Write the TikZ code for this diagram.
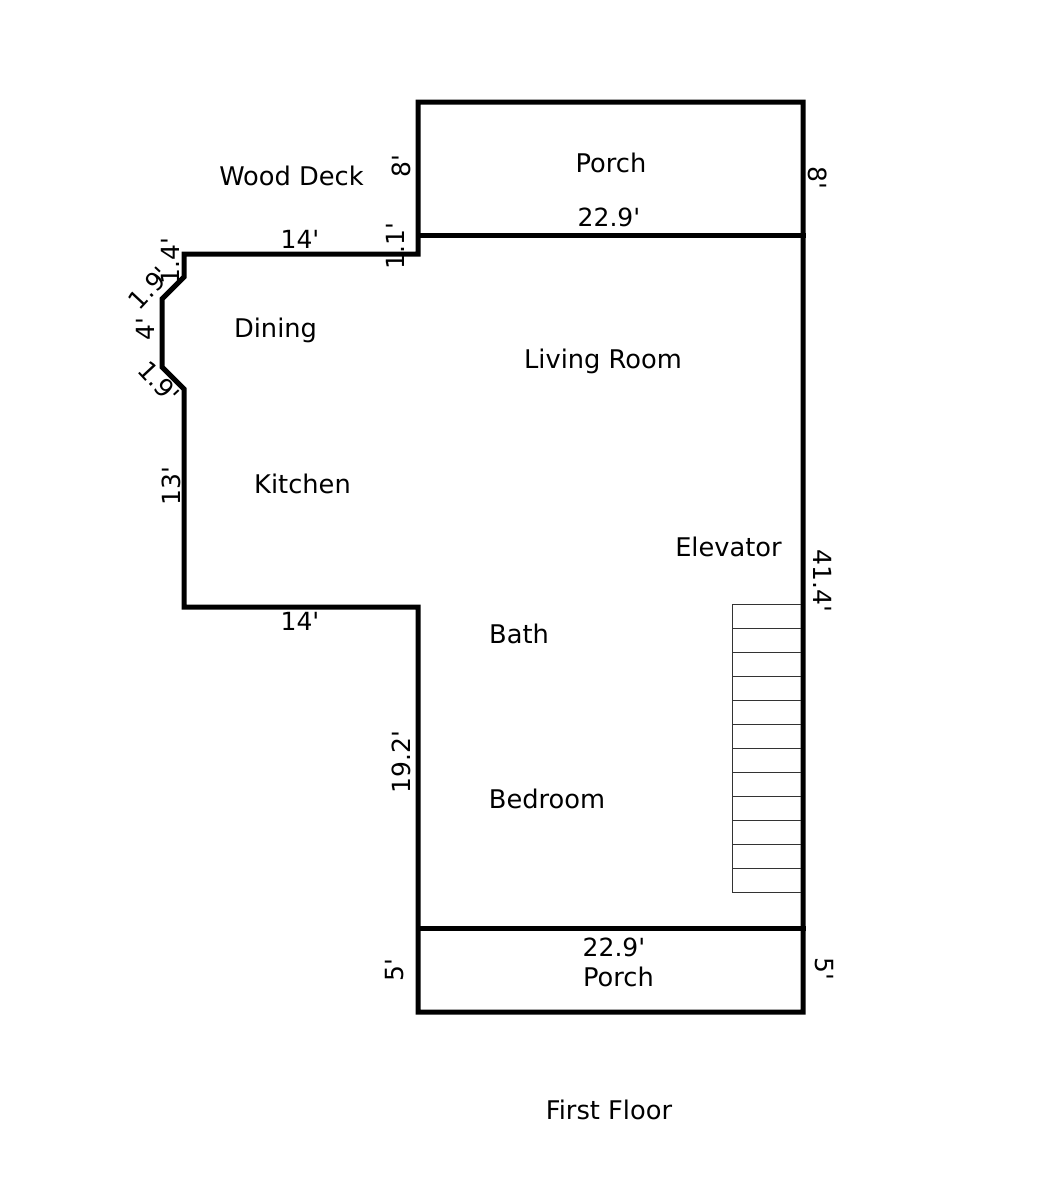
\documentclass[tikz,border=0pt]{standalone}
\usepackage{fontspec}
\newfontfamily\planfont{DejaVu Sans}
\tikzset{
  wall/.style={line width=5pt,line cap=rect,line join=miter,black},
  stair/.style={line width=1pt,black!80},
  lbl/.style={inner sep=0pt,font=\planfont\fontsize{25.7}{30}\selectfont,text=black},
  dim/.style={inner sep=0pt,font=\planfont\fontsize{25}{30}\selectfont,text=black}
}
\begin{document}
\begin{tikzpicture}[x=1pt,y=-1pt]
\useasboundingbox (0,0) rectangle (1054,1186);
\fill[white] (0,0) rectangle (1054,1186);
% corners
\coordinate (a) at (418,102);
\coordinate (b) at (803,102);
\coordinate (c) at (803,1012);
\coordinate (d) at (418,1012);
\coordinate (e) at (418,607);
\coordinate (f) at (184,607);
\coordinate (g) at (184,389);
\coordinate (h) at (162,367);
\coordinate (i) at (162,299);
\coordinate (j) at (184,277);
\coordinate (k) at (184,254);
\coordinate (l) at (418,254);
\coordinate (m) at (418,235);
\coordinate (n) at (803,235);
\coordinate (o) at (418,928);
\coordinate (p) at (803,928);
\draw[wall] (a) -- (b) -- (c) -- (d) -- (e) -- (f) -- (g) -- (h) -- (i) -- (j) -- (k) -- (l) -- (a) -- cycle;
\draw[wall] (m) -- (n);
\draw[wall] (o) -- (p);
% stairs
\foreach \y in {604,628,652,676,700,724,748,772,796,820,844,868,892}
  \draw[stair] (732,\y) -- (801,\y);
\draw[stair] (732,604) -- (732,892);
% room labels
\node[lbl] (porch1) at (611,163) {Porch};
\node[lbl] (deck) at (291.5,176) {Wood Deck};
\node[lbl] (dining) at (275.5,330) {Dining};
\node[lbl] (living) at (603,361) {Living Room};
\node[lbl] (kitchen) at (302.5,484) {Kitchen};
\node[lbl] (elev) at (728.5,547) {Elevator};
\node[lbl] (bath) at (519,634) {Bath};
\node[lbl] (bed) at (547,799) {Bedroom};
\node[lbl] (porch2) at (618.5,977) {Porch};
\node[lbl] (title) at (609,1110) {First Floor};
% dimensions
\node[dim,rotate=90] (d1) at (401,166) {8'};
\node[dim,rotate=-90] (d2) at (818,178) {8'};
\node[dim] (d3) at (609,217) {22.9'};
\node[dim] (d4) at (300,239) {14'};
\node[dim,rotate=90] (d5) at (395,246) {1.1'};
\node[dim,rotate=90] (d6) at (170,261) {1.4'};
\node[dim,rotate=47] (d7) at (149,288) {1.9'};
\node[dim,rotate=90] (d8) at (145,329) {4'};
\node[dim,rotate=-47] (d9) at (159,382) {1.9'};
\node[dim,rotate=90] (d10) at (171,486) {13'};
\node[dim] (d11) at (300,621) {14'};
\node[dim,rotate=-90] (d12) at (823,581) {41.4'};
\node[dim,rotate=90] (d13) at (401,762) {19.2'};
\node[dim] (d14) at (614,947) {22.9'};
\node[dim,rotate=90] (d15) at (395,970) {5'};
\node[dim,rotate=-90] (d16) at (824,969) {5'};
\end{tikzpicture}
\end{document}
